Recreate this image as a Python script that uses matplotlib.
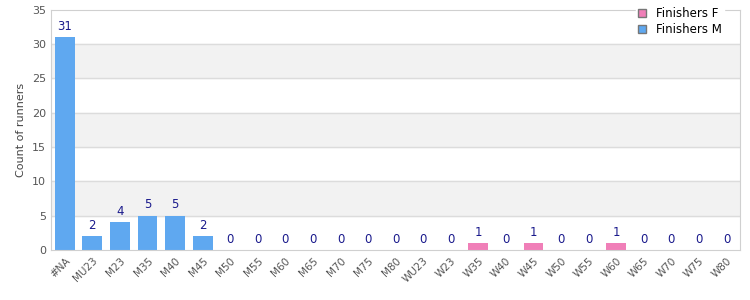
import matplotlib
matplotlib.use("Agg")
import matplotlib.pyplot as plt
from matplotlib.patches import Patch

categories = ["#NA", "MU23", "M23", "M35", "M40", "M45", "M50", "M55", "M60", "M65",
              "M70", "M75", "M80", "WU23", "W23", "W35", "W40", "W45", "W50", "W55",
              "W60", "W65", "W70", "W75", "W80"]
finishers_m = [31, 2, 4, 5, 5, 2, 0, 0, 0, 0, 0, 0, 0]
finishers_f = [0, 0, 1, 0, 1, 0, 0, 1, 0, 0, 0, 0]

col_m = "#5fa8f0"
col_f = "#f07fb8"
lab_col = "#1a1a8c"

fig = plt.figure(figsize=(7.5, 3), dpi=100)
ax = fig.add_axes([0.068, 0.167, 0.919, 0.8])

xm = list(range(len(finishers_m)))
xf = list(range(len(finishers_m), len(categories)))

for lo in (5, 15, 25):
    ax.axhspan(lo, lo + 5, color="#f2f2f2", zorder=0)
for y in range(5, 35, 5):
    ax.axhline(y, color="#dcdcdc", lw=1, zorder=1)

ax.bar(xm, finishers_m, width=0.72, color=col_m, zorder=2)
ax.bar(xf, finishers_f, width=0.72, color=col_f, zorder=2)

for x, v in zip(xm + xf, finishers_m + finishers_f):
    ax.text(x, v + 0.6, str(v), ha="center", va="bottom", fontsize=8.5, color=lab_col)

ax.set_xlim(-0.5, len(categories) - 0.5)
ax.set_ylim(0, 35)
ax.set_yticks(range(0, 36, 5))
ax.set_xticks(range(len(categories)))
ax.set_xticklabels(categories, rotation=45, ha="right", rotation_mode="anchor", fontsize=7.5, color="#555555")
ax.tick_params(axis="y", labelsize=8, labelcolor="#555555", length=0)
ax.tick_params(axis="x", length=0, pad=4)
ax.set_ylabel("Count of runners", fontsize=8, color="#444444")

for s in ax.spines.values():
    s.set_color("#d0d0d0")

handles = [Patch(facecolor=col_f, edgecolor="#777777", label="Finishers F"),
           Patch(facecolor=col_m, edgecolor="#777777", label="Finishers M")]
leg = ax.legend(handles=handles, loc="upper right", bbox_to_anchor=(0.985, 1.045),
                fontsize=8.5, frameon=True, fancybox=False, handlelength=0.7, handleheight=0.7,
                borderpad=0.2, labelspacing=0.25, handletextpad=0.8)
leg.get_frame().set_edgecolor("white")
leg.get_frame().set_facecolor("white")
leg.get_frame().set_alpha(1)
leg.set_zorder(5)

fig.savefig("out.png")
